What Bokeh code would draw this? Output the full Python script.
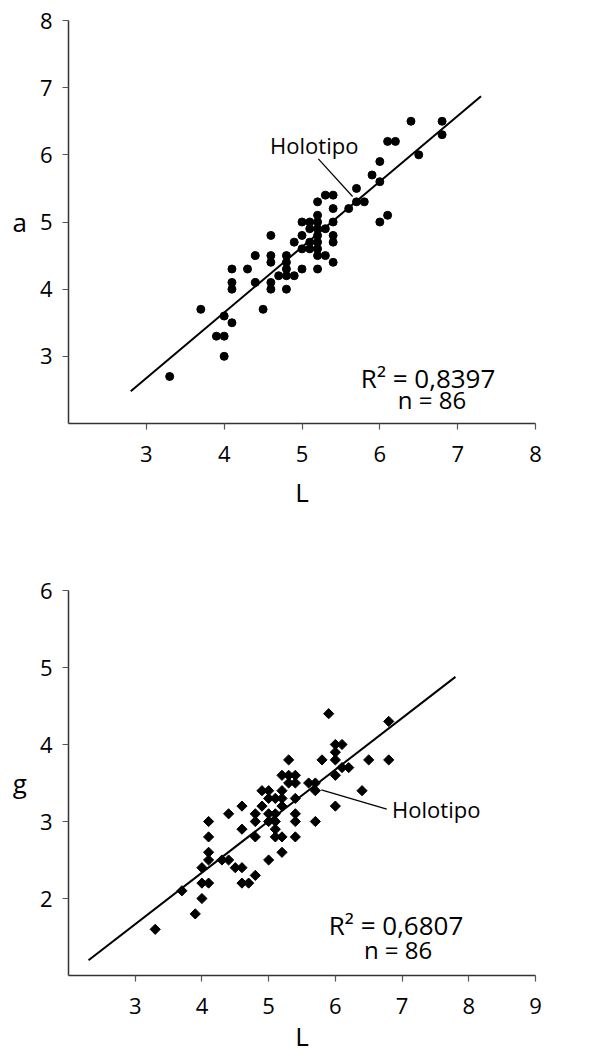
import numpy as np
from bokeh.plotting import figure
from bokeh.models import FixedTicker, Label, Range1d
from bokeh.layouts import column
from bokeh.embed import file_html
from bokeh.resources import INLINE

# ---------------- Chart 1: a vs L ----------------
L_top = [3.3, 3.7, 3.9, 4.0, 4.0, 4.0,
         4.1, 4.1, 4.1, 4.1, 4.3, 4.4, 4.4, 4.5,
         4.6, 4.6, 4.6, 4.6, 4.6, 4.7,
         4.8, 4.8, 4.8, 4.8, 4.8, 4.9, 4.9,
         5.0, 5.0, 5.0, 5.0, 5.1, 5.1, 5.1, 5.1,
         5.2, 5.2, 5.2, 5.2, 5.2, 5.2, 5.2, 5.2, 5.2,
         5.3, 5.3, 5.3, 5.4, 5.4, 5.4, 5.4, 5.4, 5.4,
         5.6, 5.7, 5.7, 5.8, 5.9, 6.0, 6.0, 6.0,
         6.1, 6.1, 6.2, 6.4, 6.5, 6.8, 6.8]
a_top = [2.7, 3.7, 3.3, 3.3, 3.6, 3.0,
         3.5, 4.3, 4.1, 4.0, 4.3, 4.5, 4.1, 3.7,
         4.8, 4.5, 4.4, 4.1, 4.0, 4.2,
         4.5, 4.4, 4.3, 4.2, 4.0, 4.2, 4.7,
         5.0, 4.8, 4.6, 4.3, 5.0, 4.9, 4.7, 4.6,
         5.3, 5.1, 5.0, 4.9, 4.8, 4.7, 4.6, 4.5, 4.3,
         5.4, 4.9, 4.5, 5.4, 5.2, 5.0, 4.8, 4.7, 4.4,
         5.2, 5.5, 5.3, 5.3, 5.7, 5.9, 5.6, 5.0,
         5.1, 6.2, 6.2, 6.5, 6.0, 6.5, 6.3]
fit_top_slope = 0.976
fit_top_intercept = -0.253
fit_top_x = [2.8, 7.3]
r2_top = "0,8397"
n_top = 86
xticks_top = [3, 4, 5, 6, 7, 8]
yticks_top = [3, 4, 5, 6, 7, 8]

# ---------------- Chart 2: g vs L ----------------
L_bot = [3.3, 3.7, 3.9, 4.0, 4.0, 4.0,
         4.1, 4.1, 4.1, 4.1, 4.1, 4.3, 4.4, 4.4, 4.5,
         4.6, 4.6, 4.6, 4.6, 4.7, 4.8, 4.8, 4.8, 4.8,
         4.9, 4.9, 5.0, 5.0, 5.0, 5.0, 5.0,
         5.1, 5.1, 5.1, 5.1, 5.1,
         5.2, 5.2, 5.2, 5.2, 5.2, 5.2,
         5.3, 5.3, 5.3, 5.4, 5.4, 5.4, 5.4, 5.4, 5.4,
         5.6, 5.7, 5.7, 5.7, 5.8, 5.9,
         6.0, 6.0, 6.0, 6.0, 6.0, 6.1, 6.1, 6.2,
         6.4, 6.5, 6.8, 6.8]
g_bot = [1.6, 2.1, 1.8, 2.0, 2.2, 2.4,
         2.2, 2.5, 2.6, 2.8, 3.0, 2.5, 2.5, 3.1, 2.4,
         2.4, 2.2, 2.9, 3.2, 2.2, 2.3, 2.8, 3.0, 3.1,
         3.4, 3.2, 3.4, 3.3, 3.1, 3.0, 2.5,
         3.3, 3.1, 3.0, 2.9, 2.8,
         3.6, 3.4, 3.3, 3.2, 2.8, 2.6,
         3.8, 3.6, 3.5, 3.6, 3.5, 3.3, 3.1, 3.0, 2.8,
         3.5, 3.5, 3.4, 3.0, 3.8, 4.4,
         4.0, 3.9, 3.8, 3.6, 3.2, 4.0, 3.7, 3.7,
         3.4, 3.8, 4.3, 3.8]
fit_bot_slope = 0.669
fit_bot_intercept = -0.34
fit_bot_x = [2.3, 7.8]
r2_bot = "0,6807"
n_bot = 86
xticks_bot = [3, 4, 5, 6, 7, 8, 9]
yticks_bot = [2, 3, 4, 5, 6]

FONT = "Open Sans"


def make_fig(xr, yr, xt, yt, ylab, height, b_top, b_bottom, b_right, xlab_standoff):
    p = figure(width=596, height=height,
               x_range=Range1d(*xr), y_range=Range1d(*yr),
               output_backend="svg", toolbar_location=None,
               min_border_left=68, min_border_right=b_right,
               min_border_top=b_top, min_border_bottom=b_bottom)
    p.outline_line_color = None
    p.grid.visible = False
    p.background_fill_color = "white"
    p.border_fill_color = "white"
    for ax, ticks in ((p.xaxis[0], xt), (p.yaxis[0], yt)):
        ax.ticker = FixedTicker(ticks=ticks)
        ax.minor_tick_line_color = None
        ax.axis_line_color = "#333333"
        ax.axis_line_width = 1.5
        ax.major_tick_line_color = "#555555"
        ax.major_tick_line_width = 1.2
        ax.major_tick_in = 0
        ax.major_tick_out = 6
        ax.major_label_text_font = FONT
        ax.major_label_text_font_size = "22px"
        ax.major_label_text_color = "black"
        ax.axis_label_text_font = FONT
        ax.axis_label_text_font_size = "26px"
        ax.axis_label_text_font_style = "normal"
        ax.axis_label_text_color = "black"
    p.xaxis[0].major_label_standoff = 16
    p.yaxis[0].major_label_standoff = 10
    p.xaxis[0].axis_label = "L"
    p.xaxis[0].axis_label_standoff = xlab_standoff
    ya = p.yaxis[0]
    ya.axis_label = ylab
    ya.axis_label_standoff = 10
    if "axis_label_orientation" in ya.properties():
        ya.axis_label_orientation = "horizontal"
    return p


def add_text(p, x, y, text, size, align="left"):
    # y is the vertical centre of the capital letters
    p.add_layout(Label(x=x, y=y, text=text, text_font=FONT, text_font_size=size,
                       text_color="black", text_baseline="middle", text_align=align))


# ---- top figure ----
p1 = make_fig((2, 8), (2, 8), xticks_top, yticks_top, "a",
              height=514, b_top=20, b_bottom=91, b_right=61, xlab_standoff=9)
fx1 = np.array(fit_top_x)
p1.line(fx1, fit_top_slope * fx1 + fit_top_intercept, line_color="black", line_width=2)
p1.scatter(L_top, a_top, marker="circle", size=8, fill_color="black", line_color="black")
p1.segment(x0=[5.21], y0=[5.94], x1=[5.65], y1=[5.38], line_color="black", line_width=1.2)
add_text(p1, 4.59, 6.14, "Holotipo", "22px")
add_text(p1, 6.62, 2.675, "R\u00b2 = " + r2_top, "26px", "center")
add_text(p1, 6.67, 2.35, "n = %d" % n_top, "24px", "center")

# ---- bottom figure ----
p2 = make_fig((2, 9), (1, 6), xticks_bot, yticks_bot, "g",
              height=544, b_top=76, b_bottom=83, b_right=12, xlab_standoff=1)
fx2 = np.array(fit_bot_x)
p2.line(fx2, fit_bot_slope * fx2 + fit_bot_intercept, line_color="black", line_width=2)
p2.scatter(L_bot, g_bot, marker="square", angle=np.pi / 4, size=7.2,
           fill_color="black", line_color="black")
p2.segment(x0=[5.79], y0=[3.41], x1=[6.77], y1=[3.16], line_color="black", line_width=1.2)
add_text(p2, 6.85, 3.165, "Holotipo", "22px")
add_text(p2, 6.91, 1.66, "R\u00b2 = " + r2_bot, "26px", "center")
add_text(p2, 6.94, 1.335, "n = %d" % n_bot, "24px", "center")

layout = column(p1, p2, spacing=0)
open("out.html", "w").write(file_html(layout, INLINE))
